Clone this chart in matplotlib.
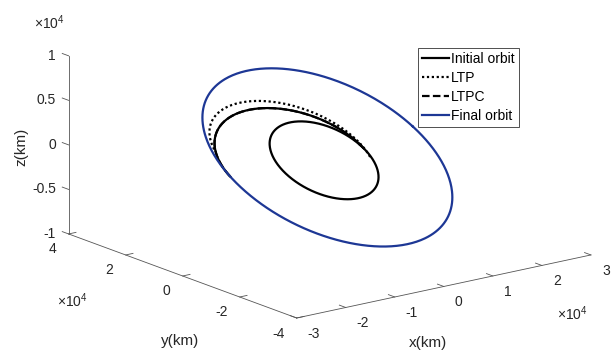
import numpy as np
import matplotlib
matplotlib.use("Agg")
import matplotlib.pyplot as plt

plt.rcParams['font.family'] = ['Liberation Sans', 'DejaVu Sans']
plt.rcParams['mathtext.fontset'] = 'custom'
plt.rcParams['mathtext.rm'] = 'Liberation Sans'

# ---- axes (km) ----
x_lim = (-3e4, 3e4)
y_lim = (-4e4, 4e4)
z_lim = (-1e4, 1e4)
x_ticks = [-3e4, -2e4, -1e4, 0, 1e4, 2e4, 3e4]
y_ticks = [-4e4, -2e4, 0, 2e4, 4e4]
z_ticks = [-1e4, -0.5e4, 0, 0.5e4, 1e4]
x_tick_labels = ['-3', '-2', '-1', '0', '1', '2', '3']
y_tick_labels = ['-4', '-2', '0', '2', '4']
z_tick_labels = ['-1', '-0.5', '0', '0.5', '1']

# ---- orbit plane ----
inclination = 20.0       # deg
raan = 18.0              # deg

# initial / final orbits: semi-latus rectum (km), eccentricity, arg. of perigee (deg)
p_initial, e_initial, w_initial = 0.964e4, 0.2166, 15.3
p_final, e_final, w_final = 2.276e4, 0.04, 15.0

# transfer arcs: perigee angle (deg), perigee radius, apogee radius (km)
arc_u0, arc_rp, arc_ra = -6.5, 0.803e4, 2.364e4       # plain transfer arc
ltp_u0, ltp_rp, ltp_ra = -22.6, 0.804e4, 2.286e4
ltpc_u0, ltpc_rp, ltpc_ra = -6.5, 0.803e4, 2.364e4

labels = ['Initial orbit', 'LTP', 'LTPC', 'Final orbit']
blue = '#1d3795'
txt = '#262626'
axc = '#555555'

W, H = 616, 352


def plane_points(r, u_deg):
    u = np.radians(u_deg)
    i = np.radians(inclination)
    o = np.radians(raan)
    P = np.array([np.cos(o), np.sin(o), 0.0])
    Q = np.array([-np.cos(i) * np.sin(o), np.cos(i) * np.cos(o), np.sin(i)])
    pts = np.outer(r * np.cos(u), P) + np.outer(r * np.sin(u), Q)
    return pts[:, 0], pts[:, 1], pts[:, 2]


def conic(p, e, w, u_deg):
    r = p / (1 + e * np.cos(np.radians(u_deg - w)))
    return plane_points(r, u_deg)


def transfer(u0, rp, ra):
    f = np.linspace(0, 180, 300)
    e = (ra - rp) / (ra + rp)
    p = 2 * rp * ra / (rp + ra)
    return conic(p, e, u0, u0 + f)


fig = plt.figure(figsize=(W / 100, H / 100), dpi=100)
S = 330
ax = fig.add_axes([150 / W, 10 / H, S / W, S / H], projection='3d', proj_type='ortho')
ax.view_init(elev=16.32, azim=-127.33)
ax.set_box_aspect((369.8, 375.9, 185.5))
ax.set_xlim(*x_lim)
ax.set_ylim(*y_lim)
ax.set_zlim(*z_lim)
ax.set_axis_off()
ax.computed_zorder = False


def to_px(x, y, z):
    M = ax.get_proj()
    v = M @ np.vstack([np.atleast_1d(x), np.atleast_1d(y), np.atleast_1d(z),
                       np.ones(np.size(x))])
    xs, ys = v[0] / v[3], v[1] / v[3]
    return ax.transData.transform(np.column_stack([xs, ys]))


# place the 3D box so the x axis sits where it does in the figure
tA = np.array([296.7, H - 318.0])
tB = np.array([591.0, H - 255.3])
for _ in range(3):
    fig.canvas.draw()
    pA = to_px(x_lim[0], y_lim[0], z_lim[0])[0]
    pB = to_px(x_lim[1], y_lim[0], z_lim[0])[0]
    bb = ax.get_position()
    o = np.array([bb.x0 * W, bb.y0 * H])
    size = bb.width * W
    s = np.linalg.norm(tB - tA) / np.linalg.norm(pB - pA)
    o2 = tA - s * (pA - o)
    ax.set_position([o2[0] / W, o2[1] / H, size * s / W, size * s / H])
fig.canvas.draw()

# ---- curves ----
t = np.linspace(0, 360, 500)
lw = 1.6
h1, = ax.plot(*conic(p_initial, e_initial, w_initial, t), color='black', lw=lw, zorder=3)
ax.plot(*transfer(arc_u0, arc_rp, arc_ra), color='black', lw=lw, zorder=3)
h3, = ax.plot(*transfer(ltpc_u0, ltpc_rp, ltpc_ra), color='black', lw=lw,
              linestyle=(0, (3.4, 1.5)), zorder=3)
h2, = ax.plot(*transfer(ltp_u0, ltp_rp, ltp_ra), color='black', lw=lw,
              linestyle=(0, (1, 1.2)), zorder=4)
h4, = ax.plot(*conic(p_final, e_final, w_final, t), color=blue, lw=lw, zorder=5)

# ---- axis lines and ticks ----
x0, x1 = x_lim
y0, y1 = y_lim
z0, z1 = z_lim
ax.plot([x0, x1], [y0, y0], [z0, z0], color=axc, lw=0.6)
ax.plot([x0, x0], [y0, y1], [z0, z0], color=axc, lw=0.6)
ax.plot([x0, x0], [y1, y1], [z0, z1], color=axc, lw=0.6)
tl_y = 0.028 * (y1 - y0)
tl_x = 0.025 * (x1 - x0)
for xv in x_ticks:
    ax.plot([xv, xv], [y0, y0 + tl_y], [z0, z0], color=axc, lw=0.6)
for yv in y_ticks:
    ax.plot([x0, x0 + tl_x], [yv, yv], [z0, z0], color=axc, lw=0.6)
for zv in z_ticks:
    ax.plot([x0, x0], [y1, y1 + tl_y], [zv, zv], color=axc, lw=0.6)

# ---- tick labels ----
fs = 10
for xv, lab in zip(x_ticks, x_tick_labels):
    p = to_px(xv, y0, z0)[0]
    fig.text((p[0] + 11) / W, (p[1] - 15.8) / H, lab, ha='left', va='center',
             fontsize=fs, color=txt)
for yv, lab in zip(y_ticks, y_tick_labels):
    p = to_px(x0, yv, z0)[0]
    fig.text((p[0] - 12.3) / W, (p[1] - 15.5) / H, lab, ha='right', va='center',
             fontsize=fs, color=txt)
for zv, lab in zip(z_ticks, z_tick_labels):
    p = to_px(x0, y1, zv)[0]
    fig.text((p[0] - 12.7) / W, p[1] / H, lab, ha='right', va='center',
             fontsize=fs, color=txt)

# exponent markers and axis labels
mult = r'$\mathregular{\times 10^{4}}$'
fig.text(49 / W, 1 - 23 / H, mult, ha='center', va='center', fontsize=fs, color=txt)
fig.text(72 / W, 1 - 301 / H, mult, ha='center', va='center', fontsize=fs, color=txt)
fig.text(572 / W, 1 - 314 / H, mult, ha='center', va='center', fontsize=fs, color=txt)
fig.text(21 / W, 1 - 147 / H, 'z(km)', rotation=90, ha='center', va='center',
         fontsize=11, color=txt)
fig.text(180 / W, 1 - 340.5 / H, 'y(km)', ha='center', va='center', fontsize=11, color=txt)
fig.text(428 / W, 1 - 343.5 / H, 'x(km)', ha='center', va='center', fontsize=11, color=txt)

leg = fig.legend([h1, h2, h3, h4], labels, loc='upper left',
                 bbox_to_anchor=(418 / W, 1 - 48 / H), borderaxespad=0,
                 fontsize=fs, frameon=True, fancybox=False, framealpha=1,
                 edgecolor='#333333', borderpad=0.3, handlelength=1.95,
                 handletextpad=0.15, labelspacing=0.35)
leg.get_frame().set_linewidth(0.6)
for t_ in leg.get_texts():
    t_.set_color('black')

fig.savefig('out.png', dpi=100)
